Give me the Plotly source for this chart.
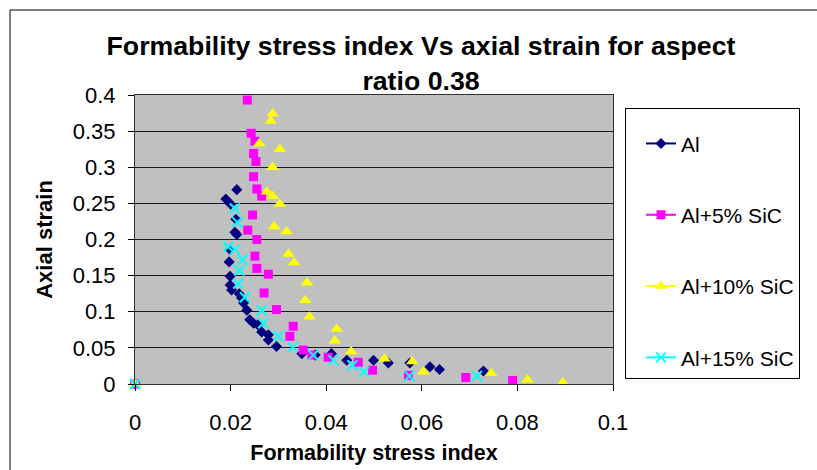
import plotly.graph_objects as go

# Formability stress index (x) and axial strain (y) for each material
al_fsi = [0.0, 0.0213, 0.0190, 0.0200, 0.0211, 0.0209, 0.0213, 0.0199, 0.0197, 0.0199,
          0.0199, 0.0202, 0.0218, 0.0223, 0.0227, 0.0234, 0.0240, 0.0248, 0.0257, 0.0265,
          0.0279, 0.0279, 0.0296, 0.0349, 0.0377, 0.0411, 0.0443, 0.0499, 0.0530, 0.0575,
          0.0617, 0.0637, 0.0729]
al_strain = [0.0, 0.269, 0.256, 0.249, 0.228, 0.210, 0.207, 0.186, 0.169, 0.149,
             0.137, 0.130, 0.125, 0.119, 0.112, 0.102, 0.089, 0.084, 0.082, 0.072,
             0.068, 0.061, 0.052, 0.042, 0.040, 0.042, 0.033, 0.033, 0.029, 0.029,
             0.024, 0.020, 0.018]

sic5_fsi = [0.0, 0.0235, 0.0243, 0.0251, 0.0248, 0.0253, 0.0248, 0.0255, 0.0265, 0.0246,
            0.0236, 0.0255, 0.0251, 0.0255, 0.0279, 0.0270, 0.0296, 0.0331, 0.0324, 0.0352,
            0.0370, 0.0404, 0.0467, 0.0497, 0.0572, 0.0692, 0.0790]
sic5_strain = [0.0, 0.393, 0.347, 0.336, 0.319, 0.308, 0.287, 0.270, 0.260, 0.234,
               0.213, 0.200, 0.177, 0.160, 0.152, 0.126, 0.103, 0.080, 0.066, 0.047,
               0.040, 0.037, 0.030, 0.019, 0.012, 0.009, 0.005]

sic10_fsi = [0.0, 0.0288, 0.0284, 0.0260, 0.0303, 0.0288, 0.0276, 0.0288, 0.0303, 0.0291,
             0.0317, 0.0321, 0.0333, 0.0360, 0.0356, 0.0365, 0.0422, 0.0418, 0.0452, 0.0522,
             0.0580, 0.0603, 0.0745, 0.0821, 0.0895]
sic10_strain = [0.0, 0.374, 0.364, 0.333, 0.325, 0.300, 0.266, 0.260, 0.249, 0.218,
                0.211, 0.180, 0.168, 0.140, 0.116, 0.093, 0.076, 0.060, 0.045, 0.035,
                0.031, 0.017, 0.015, 0.006, 0.002]

sic15_fsi = [0.0, 0.0209, 0.0214, 0.0195, 0.0209, 0.0225, 0.0218, 0.0216, 0.0230, 0.0265,
             0.0268, 0.0300, 0.0330, 0.0373, 0.0415, 0.0455, 0.0479, 0.0574, 0.0715]
sic15_strain = [0.0, 0.243, 0.224, 0.190, 0.186, 0.172, 0.157, 0.139, 0.120, 0.102,
                0.084, 0.066, 0.051, 0.040, 0.033, 0.026, 0.017, 0.011, 0.011]

series_names = ["Al", "Al+5% SiC", "Al+10% SiC", "Al+15% SiC"]
x_ticks = [0, 0.02, 0.04, 0.06, 0.08, 0.1]
x_tick_text = ["0", "0.02", "0.04", "0.06", "0.08", "0.1"]
y_ticks = [0, 0.05, 0.1, 0.15, 0.2, 0.25, 0.3, 0.35, 0.4]
y_tick_text = ["0", "0.05", "0.1", "0.15", "0.2", "0.25", "0.3", "0.35", "0.4"]

styles = [
    dict(color="#000080", symbol="diamond", size=8.5, line=dict(width=0)),
    dict(color="#FF00FF", symbol="square", size=9, line=dict(width=0)),
    dict(color="#FFFF00", symbol="triangle-up", size=11, line=dict(width=0)),
    dict(color="#00FFFF", symbol="x-thin", size=10, line=dict(width=2, color="#00FFFF")),
]
data = [(al_fsi, al_strain), (sic5_fsi, sic5_strain),
        (sic10_fsi, sic10_strain), (sic15_fsi, sic15_strain)]

fig = go.Figure()
for name, (xs, ys), st in zip(series_names, data, styles):
    fig.add_trace(go.Scatter(x=xs, y=ys, mode="markers", marker=st,
                             showlegend=False, cliponaxis=False, name=name))
# legend entries show the Excel-style line-with-marker sample
for i, (name, st) in enumerate(zip(series_names, styles)):
    fig.add_trace(go.Scatter(x=[None], y=[None], mode="lines+markers", name=name,
                             marker=st, line=dict(color=st["color"], width=2),
                             legendgroup=f"g{i}"))

font_family = "Liberation Sans, Arial, sans-serif"

fig.update_layout(
    width=817, height=470,
    margin=dict(l=135, r=204, t=95, b=86),
    paper_bgcolor="white",
    plot_bgcolor="#C0C0C0",
    font=dict(family=font_family, color="black"),
    title=dict(
        text="<b>Formability stress index Vs axial strain for aspect<br>ratio 0.38</b>",
        x=421 / 817, xref="container", xanchor="center",
        y=1 - 55 / 470, yref="container", yanchor="middle",
        font=dict(size=26.7, family=font_family, color="black"),
    ),
    xaxis=dict(
        range=[0, 0.1], tickvals=x_ticks, ticktext=x_tick_text,
        showgrid=False, zeroline=False, automargin=False,
        showline=True, linecolor="#303030", linewidth=1, mirror=True,
        ticks="outside", ticklen=6, tickcolor="black",
        tickfont=dict(size=22), ticklabelstandoff=13,
        title=dict(text="<b>Formability stress index</b>", font=dict(size=21.5), standoff=10),
    ),
    yaxis=dict(
        range=[0, 0.4], tickvals=y_ticks, ticktext=y_tick_text,
        showgrid=True, gridcolor="#1a1a1a", gridwidth=1, zeroline=False, automargin=False,
        showline=True, linecolor="#303030", linewidth=1, mirror=True,
        ticks="outside", ticklen=6, tickcolor="black",
        tickfont=dict(size=22), ticklabelstandoff=8,
        title=dict(text="<b>Axial strain</b>", font=dict(size=22), standoff=14),
    ),
    legend=dict(
        x=(625 - 135) / 478, xanchor="left",
        y=(384 - 108) / 289, yanchor="top",
        bgcolor="white", bordercolor="black", borderwidth=1,
        font=dict(size=21, family=font_family),
        title=dict(text=" ", font=dict(size=11)),
        traceorder="grouped", tracegroupgap=41,
        indentation=15,
    ),
    shapes=[
        dict(type="rect", xref="paper", yref="paper",
             x0=(10 - 135) / 478, x1=1.6, y0=-0.4, y1=(384 - 10) / 289,
             line=dict(color="black", width=1), fillcolor="rgba(0,0,0,0)"),
    ],
)

fig.write_html("out.html")
